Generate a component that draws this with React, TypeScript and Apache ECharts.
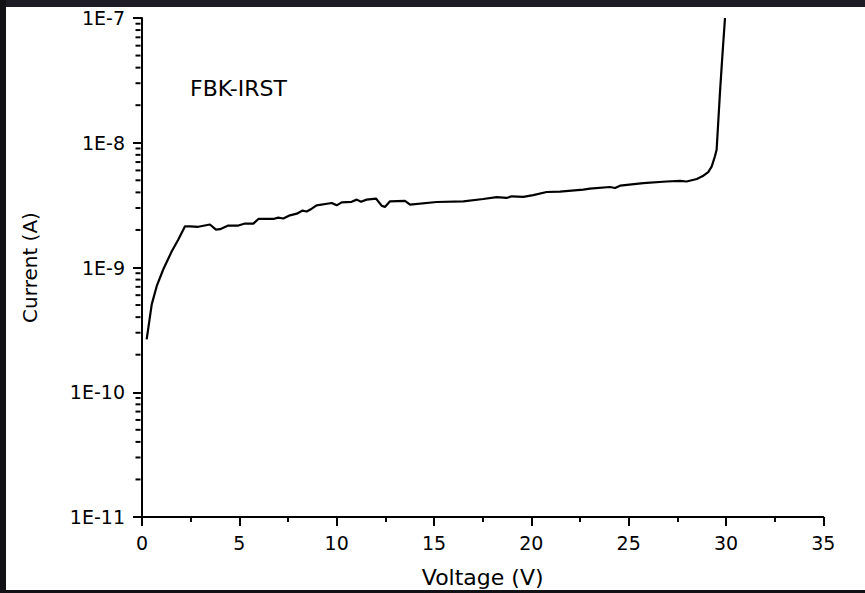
import React, { useEffect, useRef } from "react";
import * as echarts from "echarts";

const voltage = [
  0.24, 0.5, 0.755, 1.09, 1.53, 1.86, 2.21, 2.47, 2.89, 3.49, 3.8, 4.01, 4.43, 4.95,
  5.29, 5.72, 5.98, 6.75, 7.0, 7.26, 7.6, 7.95, 8.25, 8.46, 8.72, 8.97, 9.75, 10.0,
  10.26, 10.77, 11.03, 11.25, 11.54, 12.02, 12.31, 12.48, 12.74, 13.51, 13.77, 15.14,
  16.51, 17.53, 18.22, 18.73, 18.99, 19.59, 20.1, 20.79, 21.47, 22.67, 23.01, 24.04,
  24.3, 24.56, 25.75, 26.95, 27.64, 27.98, 28.5, 28.84, 29.09, 29.27, 29.43, 29.52,
  29.61, 29.69, 29.8, 29.95,
];
const current = [
  2.65e-10, 5.06e-10, 7.08e-10, 9.64e-10, 1.35e-9, 1.67e-9, 2.14e-9, 2.14e-9, 2.12e-9,
  2.21e-9, 2.01e-9, 2.03e-9, 2.17e-9, 2.17e-9, 2.25e-9, 2.25e-9, 2.45e-9, 2.45e-9,
  2.51e-9, 2.47e-9, 2.62e-9, 2.7e-9, 2.86e-9, 2.81e-9, 2.96e-9, 3.15e-9, 3.29e-9,
  3.15e-9, 3.33e-9, 3.36e-9, 3.5e-9, 3.36e-9, 3.5e-9, 3.57e-9, 3.13e-9, 3.06e-9,
  3.39e-9, 3.42e-9, 3.19e-9, 3.35e-9, 3.39e-9, 3.54e-9, 3.66e-9, 3.61e-9, 3.72e-9,
  3.68e-9, 3.8e-9, 4.03e-9, 4.06e-9, 4.21e-9, 4.29e-9, 4.42e-9, 4.34e-9, 4.53e-9,
  4.75e-9, 4.89e-9, 4.94e-9, 4.89e-9, 5.12e-9, 5.44e-9, 5.82e-9, 6.46e-9, 7.76e-9,
  8.79e-9, 1.53e-8, 2.5e-8, 4.6e-8, 1e-7,
];
const minorTickValues = [
  2e-11, 3e-11, 4e-11, 5e-11, 6e-11, 7e-11, 8e-11, 9e-11,
  2e-10, 3e-10, 4e-10, 5e-10, 6e-10, 7e-10, 8e-10, 9e-10,
  2e-9, 3e-9, 4e-9, 5e-9, 6e-9, 7e-9, 8e-9, 9e-9,
  2e-8, 3e-8, 4e-8, 5e-8, 6e-8, 7e-8, 8e-8, 9e-8,
];
const xAxisTitle = "Voltage (V)";
const yAxisTitle = "Current (A)";
const annotation = "FBK-IRST";

const FONT = "DejaVu Sans";

export default function App() {
  const ref = useRef<HTMLDivElement>(null);
  useEffect(() => {
    if (!ref.current) return;
    const chart = echarts.init(ref.current, null, { renderer: "svg" });
    const data = voltage.map((v, i) => [v, current[i]]);
    chart.setOption({
      animation: false,
      backgroundColor: "#ffffff",
      grid: { left: 142, top: 18, right: 41.7, bottom: 75, containLabel: false },
      xAxis: {
        type: "value",
        min: 0,
        max: 35,
        interval: 5,
        name: xAxisTitle,
        nameLocation: "middle",
        nameGap: 49,
        nameTextStyle: { fontFamily: FONT, fontSize: 22, color: "#000" },
        axisLine: { onZero: false, lineStyle: { color: "#000", width: 2 } },
        axisTick: { length: 9, lineStyle: { color: "#000", width: 2 } },
        minorTick: { show: true, splitNumber: 2, length: 5, lineStyle: { color: "#000", width: 2 } },
        splitLine: { show: false },
        axisLabel: { fontFamily: FONT, fontSize: 19, color: "#000", margin: 16 },
      },
      yAxis: {
        type: "log",
        logBase: 10,
        min: 1e-11,
        max: 1e-7,
        splitLine: { show: false },
        name: yAxisTitle,
        nameLocation: "middle",
        nameGap: 102,
        nameTextStyle: { fontFamily: FONT, fontSize: 20, color: "#000" },
        axisLine: { show: true, lineStyle: { color: "#000", width: 2 } },
        axisTick: { show: true, length: 9, lineStyle: { color: "#000", width: 2 } },
        axisLabel: {
          fontFamily: FONT,
          fontSize: 19,
          color: "#000",
          margin: 17,
          formatter: (v: number) => "1E" + Math.round(Math.log10(v)),
        },
      },
      series: [
        {
          type: "line",
          data,
          showSymbol: false,
          symbol: "none",
          lineStyle: { color: "#000", width: 2.2 },
          markPoint: {
            silent: true,
            symbol: "rect",
            symbolSize: [5, 2],
            symbolOffset: [-4, 0],
            label: { show: false },
            itemStyle: { color: "#000" },
            emphasis: { disabled: true },
            data: minorTickValues.map((v) => ({ coord: [0, v] })),
          },
        },
      ],
      graphic: [
        {
          type: "text",
          left: 190,
          top: 77,
          style: { text: annotation, fontFamily: FONT, fontSize: 22, fill: "#000" },
        },
        { type: "rect", z: 100, shape: { x: 0, y: 0, width: 865, height: 7 }, style: { fill: "#1d1c24" } },
        { type: "rect", z: 100, shape: { x: 0, y: 0, width: 6, height: 593 }, style: { fill: "#111116" } },
        { type: "rect", z: 100, shape: { x: 0, y: 590, width: 865, height: 3 }, style: { fill: "#111116" } },
      ],
    });
    return () => chart.dispose();
  }, []);
  return (
    <div
      ref={ref}
      style={{ position: "absolute", left: 0, top: 0, width: 865, height: 593 }}
    />
  );
}
